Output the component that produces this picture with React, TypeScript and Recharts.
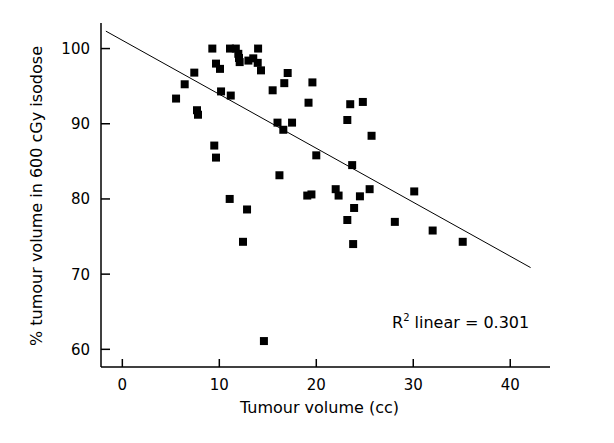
import React from 'react';
import { ScatterChart, Scatter, XAxis, YAxis, ZAxis, ReferenceLine, Label } from 'recharts';

// values
const tumourVolume = [
  9.28, 11.1, 11.7, 14.0, 11.96, 12.03, 12.1, 13.0, 13.5, 13.96,
  14.3, 9.66, 10.07, 7.42, 6.43, 5.54, 10.18, 11.18, 15.5, 16.7,
  17.05, 7.7, 7.8, 16.0, 16.6, 9.48, 9.66, 19.6, 19.2, 23.5,
  24.8, 23.2, 17.5, 25.7, 20.0, 16.2, 11.07, 12.86, 12.44, 23.7,
  19.07, 19.5, 22.0, 22.3, 24.5, 25.5, 30.1, 23.9, 23.2, 28.1,
  32.0, 35.1, 23.8, 14.6,
];
const isodoseCoverage = [
  100.0, 100.0, 100.0, 100.0, 99.3, 98.75, 98.2, 98.4, 98.7, 98.1,
  97.1, 98.0, 97.3, 96.8, 95.25, 93.35, 94.3, 93.75, 94.45, 95.4,
  96.75, 91.8, 91.2, 90.15, 89.2, 87.1, 85.5, 95.5, 92.8, 92.6,
  92.9, 90.5, 90.15, 88.4, 85.8, 83.15, 80.0, 78.6, 74.3, 84.5,
  80.45, 80.6, 81.3, 80.45, 80.35, 81.3, 81.0, 78.8, 77.2, 76.95,
  75.8, 74.3, 74.0, 61.1,
];
const xTicks = [0, 10, 20, 30, 40];
const yTicks = [60, 70, 80, 90, 100];

// linear fit
const fitIntercept = 101.1;
const fitSlope = -0.718;
const fitFrom = -1.7;
const fitTo = 42.1;
const rSquared = '0.301';

const FONT = 'Tahoma, "DejaVu Sans", sans-serif';

const points = tumourVolume.map((x, i) => ({ x, y: isodoseCoverage[i] }));

const XTick = (props: any) => {
  const { x, y, payload } = props;
  return (
    <g>
      <line x1={x} y1={y} x2={x} y2={y - 8} stroke="#000" strokeWidth={1.5} />
      <text x={x} y={y + 23} textAnchor="middle" fontSize={15} fontFamily={FONT} fill="#000">
        {payload.value}
      </text>
    </g>
  );
};

const YTick = (props: any) => {
  const { x, y, payload } = props;
  return (
    <g>
      <line x1={x} y1={y} x2={x + 9} y2={y} stroke="#000" strokeWidth={1.5} />
      <text x={x - 11} y={y + 5.5} textAnchor="end" fontSize={15} fontFamily={FONT} fill="#000">
        {payload.value}
      </text>
    </g>
  );
};

export default function App() {
  return (
    <div style={{ position: 'absolute', left: 0, top: 0, width: 614, height: 443, background: '#fff' }}>
      <ScatterChart width={614} height={443} margin={{ top: 23, right: 64, bottom: 16, left: 0 }}>
        <XAxis
          type="number"
          dataKey="x"
          domain={[-2.2, 44.1]}
          ticks={xTicks}
          allowDataOverflow
          height={60}
          tickSize={0}
          tickMargin={0}
          tickLine={false}
          tick={<XTick />}
          axisLine={{ stroke: '#000', strokeWidth: 1.5 }}
        >
          <Label
            content={(p: any) => {
              const vb = p.viewBox;
              return (
                <text x={vb.x + vb.width / 2 - 6} y={vb.y + 46} textAnchor="middle" fontSize={16} fontFamily={FONT} fill="#000">
                  Tumour volume (cc)
                </text>
              );
            }}
          />
        </XAxis>
        <YAxis
          type="number"
          dataKey="y"
          domain={[57.65, 103.4]}
          ticks={yTicks}
          allowDataOverflow
          width={101}
          tickSize={0}
          tickMargin={0}
          tickLine={false}
          tick={<YTick />}
          axisLine={{ stroke: '#000', strokeWidth: 1.5 }}
        >
          <Label
            content={(p: any) => {
              const vb = p.viewBox;
              const cx = vb.x + 42;
              const cy = vb.y + vb.height / 2 + 1;
              return (
                <text x={cx} y={cy} transform={`rotate(-90, ${cx}, ${cy})`} textAnchor="middle" fontSize={16} fontFamily={FONT} fill="#000">
                  % tumour volume in 600 cGy isodose
                </text>
              );
            }}
          />
        </YAxis>
        <ZAxis range={[50, 50]} />
        <ReferenceLine
          segment={[
            { x: fitFrom, y: fitIntercept + fitSlope * fitFrom },
            { x: fitTo, y: fitIntercept + fitSlope * fitTo },
          ]}
          stroke="#000"
          strokeWidth={1}
          ifOverflow="visible"
        />
        <Scatter data={points} shape="square" fill="#000" isAnimationActive={false} />
      </ScatterChart>
      <svg width={614} height={443} style={{ position: 'absolute', left: 0, top: 0, pointerEvents: 'none' }}>
        <text x={392} y={328} fontSize={16} fontFamily={FONT} fill="#000">
          R
          <tspan dy={-7} fontSize={10}>2</tspan>
          <tspan dy={7}>{` linear = ${rSquared}`}</tspan>
        </text>
      </svg>
    </div>
  );
}
